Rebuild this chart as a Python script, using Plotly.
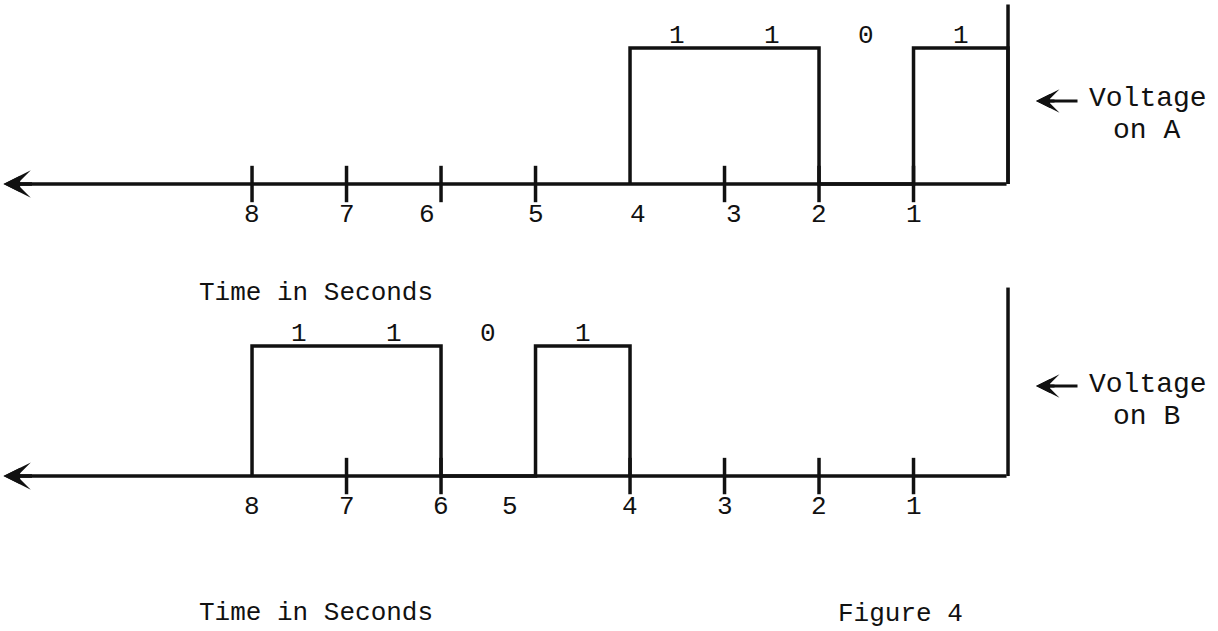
import plotly.graph_objects as go

# Time axis in seconds, drawn right-to-left (0 at the right end)
tick_times = [8, 7, 6, 5, 4, 3, 2, 1]
tick_labels = ["8", "7", "6", "5", "4", "3", "2", "1"]

# Voltage on A: one bit per one-second slot, keyed by slot start time
slot_start_a = [4, 3, 2, 1]
bits_a = [1, 1, 0, 1]
bit_text_a = ["1", "1", "0", "1"]
tick_marks_a = [8, 7, 6, 5, 3, 2, 1]

# Voltage on B
slot_start_b = [8, 7, 6, 5]
bits_b = [1, 1, 0, 1]
bit_text_b = ["1", "1", "0", "1"]
tick_marks_b = [7, 6, 4, 3, 2, 1]

W, H = 1218, 631
FONT = "Liberation Mono, Courier New, monospace"
INK = "#111111"
LW = 3.5
FS = 26


def waveform(starts, bits):
    """Square wave through the slots (start -> start-1) at each bit level."""
    xs, ys = [starts[0]], [0]
    for s, b in zip(starts, bits):
        xs += [s, s - 1]
        ys += [b, b]
    xs.append(starts[-1] - 1)
    ys.append(0)
    return xs, ys


fig = go.Figure()

panels = [
    ("y", slot_start_a, bits_a, bit_text_a, tick_marks_a, 1.32, {6: -14, 4: 8, 3: 9}),
    ("y2", slot_start_b, bits_b, bit_text_b, tick_marks_b, 1.45, {5: -26}),
]

for yref, starts, bits, btext, marks, vtop, label_shift in panels:
    wx, wy = waveform(starts, bits)
    fig.add_trace(go.Scatter(x=wx, y=wy, yaxis=yref, mode="lines",
                             line=dict(color=INK, width=LW), hoverinfo="skip"))
    # tick marks across the time axis
    fig.add_trace(go.Scatter(x=marks, y=[0] * len(marks), yaxis=yref, mode="markers",
                             marker=dict(symbol="line-ns", size=26,
                                         line=dict(color=INK, width=LW)),
                             hoverinfo="skip"))
    # time axis with a barbed arrow pointing back in time
    fig.add_annotation(x=10.63, y=0, ax=0, ay=0, xref="x", yref=yref,
                       axref="x", ayref=yref, text="", showarrow=True,
                       arrowhead=3, arrowsize=1.3, arrowwidth=LW, arrowcolor=INK)
    fig.add_annotation(x=10.63, y=0, ax=30, ay=0, xref="x", yref=yref,
                       axref="pixel", ayref="pixel", text="", showarrow=True,
                       arrowhead=2, arrowsize=0.95, arrowwidth=LW, arrowcolor=INK)
    # voltage axis at t = 0
    fig.add_shape(type="line", x0=0, x1=0, y0=0, y1=vtop, xref="x", yref=yref,
                  line=dict(color=INK, width=LW))
    # time labels under the axis
    for t, lab in zip(tick_times, tick_labels):
        fig.add_annotation(x=t, y=0, xref="x", yref=yref, text=lab, showarrow=False,
                           yshift=-31, xshift=label_shift.get(t, 0),
                           font=dict(family=FONT, size=FS, color=INK))
    # bit values over each slot
    for s, txt in zip(starts, btext):
        fig.add_annotation(x=s - 0.5, y=1, xref="x", yref=yref, text=txt,
                           showarrow=False, yshift=12,
                           font=dict(family=FONT, size=FS, color=INK))

# side labels with pointer arrows
for y1, y2, name in [(99, 130, "A"), (384, 416, "B")]:
    fig.add_annotation(x=1148 / W, y=1 - y1 / H, xref="paper", yref="paper",
                       text="Voltage", showarrow=False, xanchor="center", yanchor="middle",
                       font=dict(family=FONT, size=28, color=INK))
    fig.add_annotation(x=1146 / W, y=1 - y2 / H, xref="paper", yref="paper",
                       text=f"on {name}", showarrow=False, xanchor="center", yanchor="middle",
                       font=dict(family=FONT, size=28, color=INK))
    fig.add_annotation(x=1036 / W, y=1 - (y1 + 2) / H, xref="paper", yref="paper",
                       ax=43, ay=0, axref="pixel", ayref="pixel",
                       text="", showarrow=True, arrowhead=3, arrowsize=1.4,
                       arrowwidth=2.8, arrowcolor=INK)
    fig.add_annotation(x=1036 / W, y=1 - (y1 + 2) / H, xref="paper", yref="paper",
                       ax=20, ay=0, axref="pixel", ayref="pixel",
                       text="", showarrow=True, arrowhead=2, arrowsize=1.0,
                       arrowwidth=2.8, arrowcolor=INK)

for yc in (293, 613):
    fig.add_annotation(x=197 / W, y=1 - yc / H, xref="paper", yref="paper",
                       text="Time in Seconds", showarrow=False,
                       xanchor="left", yanchor="middle",
                       font=dict(family=FONT, size=FS, color=INK))

fig.add_annotation(x=836 / W, y=1 - 614 / H, xref="paper", yref="paper",
                   text="Figure 4", showarrow=False, xanchor="left", yanchor="middle",
                   font=dict(family=FONT, size=FS, color=INK))

fig.update_layout(
    width=W, height=H, margin=dict(l=0, r=0, t=0, b=0),
    paper_bgcolor="white", plot_bgcolor="white", showlegend=False,
    xaxis=dict(range=[10.667, -2.222], visible=False, fixedrange=True),
    yaxis=dict(range=[-3.287, 1.353], visible=False, domain=[0, 1]),
    yaxis2=dict(range=[-1.192, 3.662], visible=False, overlaying="y"),
)

fig.write_html("out.html")
